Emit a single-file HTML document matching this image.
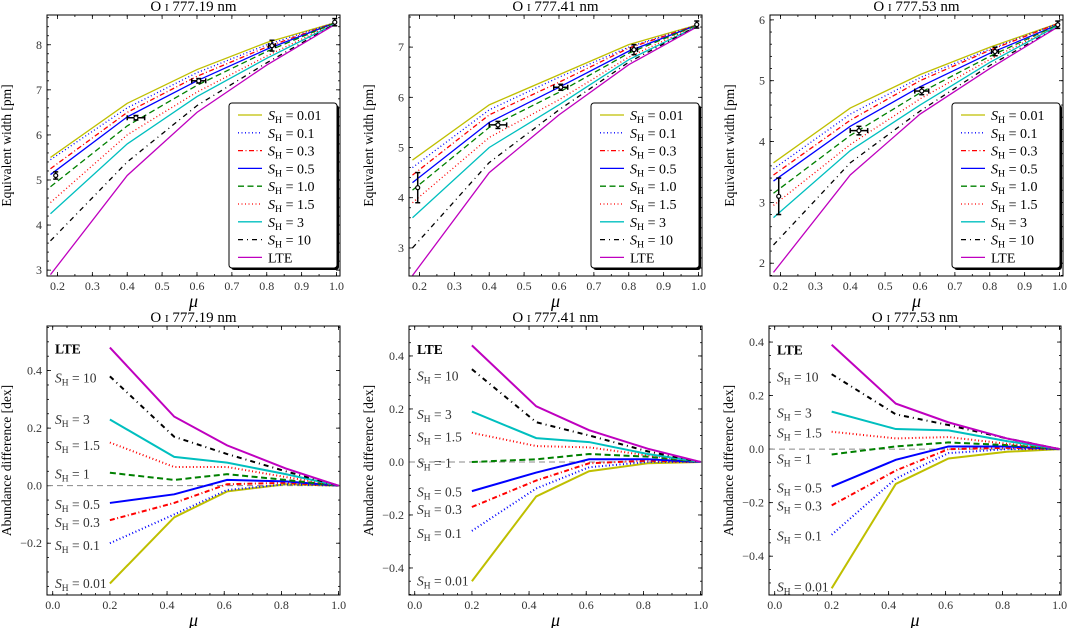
<!DOCTYPE html>
<html><head><meta charset="utf-8"><style>
body{margin:0;background:#fff;}
svg{display:block;font-family:"Liberation Serif","DejaVu Serif",serif;}
</style></head><body>
<svg id="fig" width="1067" height="628" viewBox="0 0 1067 628" xmlns="http://www.w3.org/2000/svg"></svg>
<script>
// ---- data ----
const seriesNames=["0.01","0.1","0.3","0.5","1.0","1.5","3","10","LTE"];
const muModel=[0.18,0.4,0.6,0.8,1.0];
const muDiff=[0.2,0.425,0.61,0.815,1.0];
const muObs=[0.195,0.425,0.605,0.815,0.995];
const titles=["O I 777.19 nm","O I 777.41 nm","O I 777.53 nm"];
const ew1=[[5.5,6.7,7.45,8.05,8.5],[5.45,6.6,7.38,8.0,8.5],[5.25,6.5,7.3,7.95,8.5],[5.12,6.4,7.2,7.9,8.5],[4.85,6.2,7.1,7.85,8.5],[4.5,6.0,6.95,7.75,8.5],[4.25,5.8,6.85,7.7,8.48],[3.65,5.4,6.65,7.6,8.48],[2.9,5.1,6.5,7.55,8.47]];
const ew2=[[4.75,5.85,6.45,7.05,7.45],[4.6,5.75,6.4,7.0,7.45],[4.45,5.65,6.3,6.98,7.45],[4.3,5.5,6.2,6.92,7.45],[4.15,5.4,6.1,6.88,7.45],[3.9,5.2,5.95,6.8,7.45],[3.6,5.0,5.85,6.75,7.43],[3.0,4.7,5.75,6.7,7.43],[2.45,4.5,5.65,6.65,7.42]];
const ew3=[[3.65,4.55,5.1,5.55,5.95],[3.55,4.45,5.05,5.52,5.95],[3.45,4.35,5.0,5.5,5.95],[3.35,4.25,4.9,5.45,5.93],[3.15,4.1,4.8,5.4,5.93],[2.95,3.95,4.7,5.35,5.92],[2.75,3.85,4.6,5.3,5.92],[2.3,3.65,4.5,5.25,5.9],[1.85,3.45,4.45,5.2,5.9]];
const obs1=[5.1,6.38,7.2,7.98,8.5], obsErr1=[0.08,0.05,0.05,0.12,0.08], obsXErr1=[0,0.025,0.02,0.01,0];
const obs2=[4.2,5.45,6.2,6.95,7.45], obsErr2=[0.3,0.07,0.06,0.1,0.07], obsXErr2=[0,0.025,0.02,0.01,0];
const obs3=[3.1,4.18,4.83,5.48,5.92], obsErr3=[0.3,0.07,0.06,0.07,0.06], obsXErr3=[0,0.025,0.02,0.01,0];
const ad1=[[-0.34,-0.11,-0.02,0.005,0],[-0.2,-0.1,-0.015,0.005,0],[-0.12,-0.06,0.005,0.01,0],[-0.06,-0.03,0.02,0.015,0],[0.045,0.02,0.04,0.02,0],[0.15,0.065,0.065,0.03,0],[0.23,0.10,0.08,0.04,0],[0.38,0.17,0.11,0.05,0],[0.48,0.24,0.14,0.06,0]];
const ad2=[[-0.45,-0.13,-0.035,-0.005,0],[-0.26,-0.1,-0.02,0,0],[-0.17,-0.07,-0.005,0.005,0],[-0.11,-0.04,0.01,0.01,0],[0,0.01,0.03,0.02,0],[0.11,0.06,0.055,0.025,0],[0.19,0.09,0.075,0.03,0],[0.35,0.15,0.1,0.04,0],[0.44,0.21,0.12,0.05,0]];
const ad3=[[-0.52,-0.13,-0.035,-0.01,0],[-0.32,-0.11,-0.015,0,0],[-0.21,-0.08,0,0.005,0],[-0.14,-0.04,0.01,0.01,0],[-0.02,0.01,0.025,0.015,0],[0.065,0.04,0.045,0.02,0],[0.14,0.075,0.07,0.03,0],[0.28,0.13,0.09,0.04,0],[0.39,0.17,0.1,0.04,0]];
const lab1=[-0.34,-0.208,-0.128,-0.065,0.04,0.14,0.23,0.375,0.475];
const lab2=[-0.45,-0.27,-0.18,-0.113,-0.004,0.094,0.18,0.325,0.425];
const lab3=[-0.516,-0.325,-0.213,-0.146,-0.037,0.06,0.135,0.27,0.37];
const diffLabels=["0.01","0.1","0.3","0.5","1","1.5","3","10","LTE"];

const colors=["#bfbf00","#0000ff","#ff0000","#0000ff","#008000","#ff0000","#00bfbf","#000000","#bf00bf"];
const dashes=["","1,2.5","5,2.5,1,2.5","","6,3.5","1,2.5","","5,4,1,4",""];
const NS="http://www.w3.org/2000/svg";
const svg=document.getElementById('fig');
function mk(tag,attrs,parent){const e=document.createElementNS(NS,tag);for(const k in attrs)e.setAttribute(k,attrs[k]);(parent||svg).appendChild(e);return e;}
function shLabel(t,x,y,val,anchor,fs){
  t.setAttribute('x',x);t.setAttribute('y',y);
  const a=mk('tspan',{'font-style':'italic'},t);a.textContent='S';
  const b=mk('tspan',{'font-size':fs*0.7,dy:3},t);b.textContent='H';
  const c=mk('tspan',{dy:-3},t);c.textContent=' = '+val;
}
function panel(i,box,xlim,ylim,xMaj,xMin,yMaj,yMin,xfmt,yfmt,ylabel,kind){
  const [L,T,R,B]=box;
  const sx=v=>L+(v-xlim[0])/(xlim[1]-xlim[0])*(R-L);
  const sy=v=>B-(v-ylim[0])/(ylim[1]-ylim[0])*(B-T);
  const g=mk('g',{});
  
  
  const clipId='c'+kind+i;
  const cp=mk('clipPath',{id:clipId},g);mk('rect',{x:L,y:T,width:R-L,height:B-T},cp);
  const tt=mk('text',{x:(L+R)/2,y:T-4,'text-anchor':'middle','font-size':15},g);
  
  const tp=titles[i].split(' ');
  tt.textContent='O ';const sc=mk('tspan',{'font-size':11},tt);sc.textContent='I';
  const rest=mk('tspan',{},tt);rest.textContent=' '+tp[2]+' '+tp[3];
  const tg=mk('g',{stroke:'#000','stroke-width':0.8},g);
  for(let v=Math.ceil(xlim[0]/xMin-1e-9)*xMin;v<=xlim[1]+1e-9;v+=xMin){const x=sx(v);mk('line',{x1:x,x2:x,y1:B,y2:B-2},tg);mk('line',{x1:x,x2:x,y1:T,y2:T+2},tg);}
  for(let v=Math.ceil(ylim[0]/yMin-1e-9)*yMin;v<=ylim[1]+1e-9;v+=yMin){const y=sy(v);mk('line',{x1:L,x2:L+2,y1:y,y2:y},tg);mk('line',{x1:R,x2:R-2,y1:y,y2:y},tg);}
  for(let k=Math.ceil(xlim[0]/xMaj-1e-9);k*xMaj<=xlim[1]+1e-9;k++){const v=k*xMaj,x=sx(v);mk('line',{x1:x,x2:x,y1:B,y2:B-4},tg);mk('line',{x1:x,x2:x,y1:T,y2:T+4},tg);
    const t=mk('text',{x:x,y:B+14,'text-anchor':'middle','font-size':12,fill:'#333'},g);t.textContent=v.toFixed(xfmt);
    }
  for(let k=Math.ceil(ylim[0]/yMaj-1e-9);k*yMaj<=ylim[1]+1e-9;k++){const v=k*yMaj,y=sy(v);mk('line',{x1:L,x2:L+4,y1:y,y2:y},tg);mk('line',{x1:R,x2:R-4,y1:y,y2:y},tg);
    const t=mk('text',{x:L-5,y:y+4,'text-anchor':'end','font-size':12,fill:'#333'},g);t.textContent=(Math.abs(v)<1e-9?0:v).toFixed(yfmt).replace('-','\u2212');
    }
  const xl=mk('text',{x:(L+R)/2,y:B+31,'text-anchor':'middle','font-size':18,'font-style':'italic'},g);xl.textContent='μ';
  
  const yl=mk('text',{transform:`translate(${L-36},${(T+B)/2}) rotate(-90)`,'text-anchor':'middle','font-size':13.5},g);yl.textContent=ylabel;
  
  const pg=mk('g',{'clip-path':`url(#${clipId})`,fill:'none'},g);
  return {sx,sy,pg,g,box};
}
const topBoxes=[[47,15,340,276],[409,15,702,276],[770,15,1063,276]];
const botBoxes=[[47,326,340,595],[409,326,702,595],[769,326,1061,595]];
const topY=[[2.87,8.66],[2.44,7.64],[1.79,6.08]];
const botY=[[-0.38,0.555],[-0.502,0.513],[-0.545,0.46]];
const ews=[ew1,ew2,ew3], obss=[obs1,obs2,obs3], oerr=[obsErr1,obsErr2,obsErr3], oxerr=[obsXErr1,obsXErr2,obsXErr3];
const ads=[ad1,ad2,ad3], labs=[lab1,lab2,lab3];
for(let i=0;i<3;i++){
  const P=panel(i,topBoxes[i],[0.17,1.01],topY[i],0.1,0.05,1,0.2,1,0,'Equivalent width [pm]','ew');
  ews[i].forEach((s,j)=>{
    const pts=s.map((v,k)=>P.sx(muModel[k])+','+P.sy(v)).join(' ');
    const pl=mk('polyline',{points:pts,stroke:colors[j],'stroke-width':1.3,'stroke-dasharray':dashes[j]},P.pg);
    
  });
  obss[i].forEach((v,k)=>{
    const x=P.sx(muObs[k]),y=P.sy(v);
    const e=oerr[i][k],xe=oxerr[i][k];
    const og=mk('g',{stroke:'#000','stroke-width':1.5},P.g);
    
    mk('line',{x1:x,x2:x,y1:P.sy(v-e),y2:P.sy(v+e)},og);
    mk('line',{x1:x-2.5,x2:x+2.5,y1:P.sy(v-e),y2:P.sy(v-e)},og);
    mk('line',{x1:x-2.5,x2:x+2.5,y1:P.sy(v+e),y2:P.sy(v+e)},og);
    if(xe>0){mk('line',{x1:P.sx(muObs[k]-xe),x2:P.sx(muObs[k]+xe),y1:y,y2:y},og);
      mk('line',{x1:P.sx(muObs[k]-xe),x2:P.sx(muObs[k]-xe),y1:y-2.5,y2:y+2.5},og);
      mk('line',{x1:P.sx(muObs[k]+xe),x2:P.sx(muObs[k]+xe),y1:y-2.5,y2:y+2.5},og);}
    mk('circle',{cx:x,cy:y,r:2,fill:'#fff','stroke-width':1.2},og);
  });
  mk('rect',{x:P.box[0],y:P.box[1],width:P.box[2]-P.box[0],height:P.box[3]-P.box[1],fill:'none',stroke:'#000','stroke-width':1},P.g);
  const lx=P.box[0]+182, ly=103;
  const lg=mk('g',{},P.g);
  mk('rect',{x:lx+2,y:ly+2,width:108,height:165,rx:3,fill:'#000'},lg);
  mk('rect',{x:lx,y:ly,width:108,height:165,rx:3,fill:'#fff',stroke:'#000','stroke-width':1},lg);
  seriesNames.forEach((n,j)=>{
    const yy=ly+12+j*17.8;
    const eg=mk('g',{},lg);
    mk('line',{x1:lx+9,x2:lx+33,y1:yy,y2:yy,stroke:colors[j],'stroke-width':1.3,'stroke-dasharray':dashes[j]},eg);
    const t=mk('text',{'font-size':14},eg);
    if(n==='LTE'){t.setAttribute('x',lx+39);t.setAttribute('y',yy+5);t.textContent='LTE';}
    else shLabel(t,lx+39,yy+5,n,'start',14);
  });
}
for(let i=0;i<3;i++){
  const P=panel(i,botBoxes[i],[-0.02,1.005],botY[i],0.2,0.05,0.2,0.05,1,1,'Abundance difference [dex]','diff');
  const z=mk('line',{x1:P.sx(-0.02),x2:P.sx(1.005),y1:P.sy(0),y2:P.sy(0),stroke:'#888','stroke-width':1,'stroke-dasharray':'6,4'},P.pg);
  
  ads[i].forEach((s,j)=>{
    const pts=s.map((v,k)=>P.sx(muDiff[k])+','+P.sy(v)).join(' ');
    const pl=mk('polyline',{points:pts,stroke:colors[j],'stroke-width':2,'stroke-dasharray':dashes[j]},P.pg);
    
    const t=mk('text',{'font-size':13.5,fill:'#333'},P.g);
    
    const y=P.sy(labs[i][j])+4.5;
    if(j===8){t.setAttribute('x',P.box[0]+8);t.setAttribute('y',y);t.setAttribute('font-weight','bold');t.setAttribute('fill','#000');t.textContent='LTE';}
    else shLabel(t,P.box[0]+8,y,diffLabels[j],'start',13.5);
  });
  mk('rect',{x:P.box[0],y:P.box[1],width:P.box[2]-P.box[0],height:P.box[3]-P.box[1],fill:'none',stroke:'#000','stroke-width':1},P.g);
}
</script>
</body></html>
